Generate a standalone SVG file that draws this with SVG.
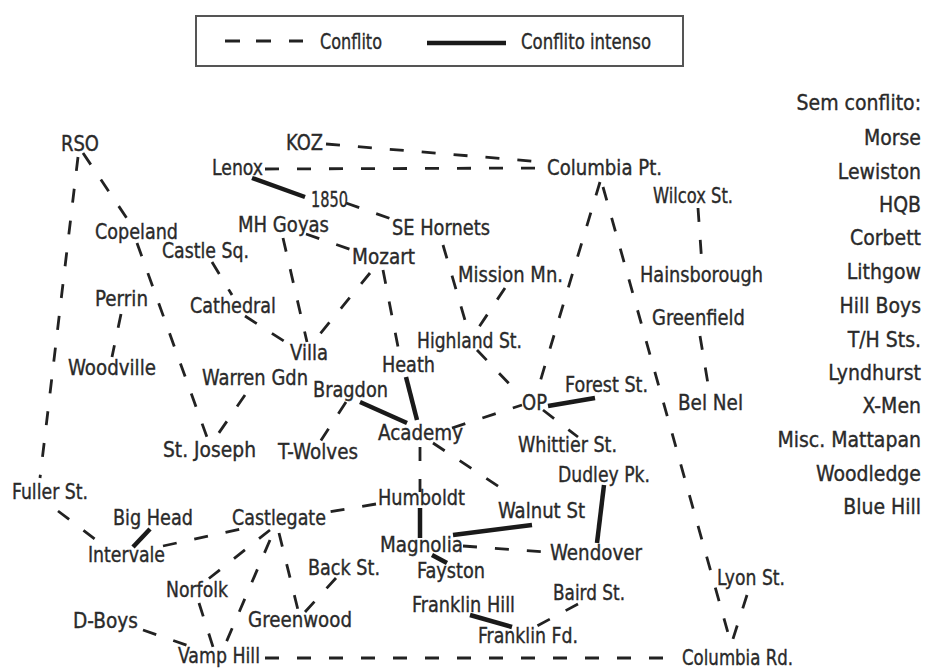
<svg xmlns="http://www.w3.org/2000/svg" width="925" height="669" viewBox="0 0 925 669">
<style>
text{font-family:"DejaVu Sans Condensed","DejaVu Sans","Liberation Sans",sans-serif;font-stretch:condensed;font-size:21px;fill:#2a2a2a;stroke:#2a2a2a;stroke-width:0.35}
.r{text-anchor:end}
.d{stroke:#222;stroke-width:2.8;fill:none;stroke-dasharray:14 18}
.s{stroke:#1a1a1a;stroke-width:4.5;fill:none;stroke-linecap:butt}
</style>
<rect width="925" height="669" fill="#fff"/>
<g id="legend">
<rect x="196" y="16" width="487" height="50" fill="#fff" stroke="#555" stroke-width="2"/>
<path d="M225 41h15M256 41h15M289 41h14" stroke="#222" stroke-width="2.8"/>
<text x="320" y="49" textLength="62" lengthAdjust="spacingAndGlyphs">Conflito</text>
<line x1="427" y1="43" x2="506" y2="43" class="s"/>
<text x="521" y="49" textLength="130" lengthAdjust="spacingAndGlyphs">Conflito intenso</text>
</g>
<g id="connectors">
<line class="d" x1="326" y1="144" x2="543" y2="162"/>
<line class="d" x1="265" y1="169" x2="543" y2="168"/>
<line class="d" x1="78" y1="157" x2="40" y2="478"/>
<line class="d" x1="83" y1="153" x2="128" y2="220"/>
<line class="d" x1="137" y1="243" x2="208" y2="440"/>
<line class="d" x1="245" y1="395" x2="214" y2="440"/>
<line class="d" x1="121" y1="314" x2="112" y2="357"/>
<line class="d" x1="212" y1="262" x2="232" y2="295"/>
<line class="d" x1="245" y1="316" x2="290" y2="345"/>
<line class="d" x1="283" y1="238" x2="307" y2="342"/>
<line class="d" x1="306" y1="234" x2="352" y2="250"/>
<line class="d" x1="346" y1="203" x2="400" y2="222"/>
<line class="d" x1="370" y1="273" x2="315" y2="340"/>
<line class="d" x1="383" y1="270" x2="399" y2="352"/>
<line class="d" x1="443" y1="245" x2="467" y2="327"/>
<line class="d" x1="505" y1="288" x2="475" y2="333"/>
<line class="d" x1="600" y1="182" x2="537" y2="392"/>
<line class="d" x1="603" y1="187" x2="730" y2="640"/>
<line class="d" x1="747" y1="595" x2="731" y2="645"/>
<line class="d" x1="265" y1="658" x2="680" y2="658"/>
<line class="d" x1="698" y1="208" x2="702" y2="265"/>
<line class="d" x1="700" y1="336" x2="709" y2="390"/>
<line class="d" x1="477" y1="350" x2="517" y2="392"/>
<line class="d" x1="452" y1="428" x2="522" y2="405"/>
<line class="d" x1="543" y1="410" x2="578" y2="437"/>
<line class="d" x1="433" y1="443" x2="507" y2="492"/>
<line class="d" x1="420" y1="447" x2="420" y2="492"/>
<line class="d" x1="376" y1="504" x2="328" y2="512"/>
<line class="d" x1="163" y1="546" x2="245" y2="528"/>
<line class="d" x1="58" y1="511" x2="100" y2="543"/>
<line class="d" x1="270" y1="530" x2="207" y2="580"/>
<line class="d" x1="270" y1="540" x2="222" y2="652"/>
<line class="d" x1="279" y1="533" x2="298" y2="610"/>
<line class="d" x1="336" y1="578" x2="305" y2="612"/>
<line class="d" x1="199" y1="603" x2="214" y2="650"/>
<line class="d" x1="143" y1="630" x2="192" y2="647"/>
<line class="d" x1="463" y1="546" x2="546" y2="552"/>
<line class="d" x1="578" y1="604" x2="537" y2="626"/>
<line class="d" x1="346" y1="402" x2="318" y2="445"/>
<line class="s" x1="252" y1="178" x2="305" y2="197"/>
<line class="s" x1="406" y1="377" x2="417" y2="420"/>
<line class="s" x1="360" y1="402" x2="407" y2="423"/>
<line class="s" x1="548" y1="406" x2="595" y2="398"/>
<line class="s" x1="420" y1="508" x2="420" y2="538"/>
<line class="s" x1="453" y1="535" x2="532" y2="525"/>
<line class="s" x1="432" y1="555" x2="447" y2="563"/>
<line class="s" x1="604" y1="485" x2="597" y2="543"/>
<line class="s" x1="470" y1="615" x2="512" y2="627"/>
<line class="s" x1="150" y1="529" x2="133" y2="547"/>
</g>
<g id="n-rso"><text x="61" y="151" textLength="38" lengthAdjust="spacingAndGlyphs">RSO</text></g>
<g id="n-koz"><text x="286" y="150" textLength="37" lengthAdjust="spacingAndGlyphs">KOZ</text></g>
<g id="n-lenox"><text x="212" y="175" textLength="51" lengthAdjust="spacingAndGlyphs">Lenox</text></g>
<g id="n-columbia-pt"><text x="547" y="175" textLength="115" lengthAdjust="spacingAndGlyphs">Columbia Pt.</text></g>
<g id="n-1850"><text x="311" y="207" textLength="37" lengthAdjust="spacingAndGlyphs">1850</text></g>
<g id="n-copeland"><text x="95" y="239" textLength="83" lengthAdjust="spacingAndGlyphs">Copeland</text></g>
<g id="n-mh-goyas"><text x="238" y="232" textLength="91" lengthAdjust="spacingAndGlyphs">MH Goyas</text></g>
<g id="n-se-hornets"><text x="392" y="235" textLength="98" lengthAdjust="spacingAndGlyphs">SE Hornets</text></g>
<g id="n-wilcox"><text x="653" y="203" textLength="80" lengthAdjust="spacingAndGlyphs">Wilcox St.</text></g>
<g id="n-castle-sq"><text x="162" y="258" textLength="87" lengthAdjust="spacingAndGlyphs">Castle Sq.</text></g>
<g id="n-mozart"><text x="352" y="264" textLength="63" lengthAdjust="spacingAndGlyphs">Mozart</text></g>
<g id="n-mission"><text x="458" y="282" textLength="105" lengthAdjust="spacingAndGlyphs">Mission Mn.</text></g>
<g id="n-hainsborough"><text x="640" y="282" textLength="123" lengthAdjust="spacingAndGlyphs">Hainsborough</text></g>
<g id="n-perrin"><text x="95" y="306" textLength="53" lengthAdjust="spacingAndGlyphs">Perrin</text></g>
<g id="n-cathedral"><text x="190" y="313" textLength="86" lengthAdjust="spacingAndGlyphs">Cathedral</text></g>
<g id="n-greenfield"><text x="652" y="325" textLength="93" lengthAdjust="spacingAndGlyphs">Greenfield</text></g>
<g id="n-highland"><text x="417" y="348" textLength="105" lengthAdjust="spacingAndGlyphs">Highland St.</text></g>
<g id="n-villa"><text x="290" y="360" textLength="38" lengthAdjust="spacingAndGlyphs">Villa</text></g>
<g id="n-heath"><text x="382" y="372" textLength="53" lengthAdjust="spacingAndGlyphs">Heath</text></g>
<g id="n-woodville"><text x="68" y="375" textLength="88" lengthAdjust="spacingAndGlyphs">Woodville</text></g>
<g id="n-warren"><text x="202" y="385" textLength="106" lengthAdjust="spacingAndGlyphs">Warren Gdn</text></g>
<g id="n-bragdon"><text x="313" y="397" textLength="75" lengthAdjust="spacingAndGlyphs">Bragdon</text></g>
<g id="n-forest"><text x="565" y="392" textLength="83" lengthAdjust="spacingAndGlyphs">Forest St.</text></g>
<g id="n-op"><text x="522" y="410" textLength="25" lengthAdjust="spacingAndGlyphs">OP</text></g>
<g id="n-bel-nel"><text x="678" y="410" textLength="65" lengthAdjust="spacingAndGlyphs">Bel Nel</text></g>
<g id="n-academy"><text x="378" y="440" textLength="85" lengthAdjust="spacingAndGlyphs">Academy</text></g>
<g id="n-whittier"><text x="518" y="452" textLength="99" lengthAdjust="spacingAndGlyphs">Whittier St.</text></g>
<g id="n-st-joseph"><text x="163" y="457" textLength="93" lengthAdjust="spacingAndGlyphs">St. Joseph</text></g>
<g id="n-t-wolves"><text x="278" y="459" textLength="80" lengthAdjust="spacingAndGlyphs">T-Wolves</text></g>
<g id="n-dudley"><text x="558" y="482" textLength="92" lengthAdjust="spacingAndGlyphs">Dudley Pk.</text></g>
<g id="n-fuller"><text x="12" y="499" textLength="76" lengthAdjust="spacingAndGlyphs">Fuller St.</text></g>
<g id="n-humboldt"><text x="378" y="505" textLength="87" lengthAdjust="spacingAndGlyphs">Humboldt</text></g>
<g id="n-walnut"><text x="498" y="518" textLength="87" lengthAdjust="spacingAndGlyphs">Walnut St</text></g>
<g id="n-big-head"><text x="113" y="525" textLength="80" lengthAdjust="spacingAndGlyphs">Big Head</text></g>
<g id="n-castlegate"><text x="232" y="525" textLength="94" lengthAdjust="spacingAndGlyphs">Castlegate</text></g>
<g id="n-magnolia"><text x="380" y="552" textLength="83" lengthAdjust="spacingAndGlyphs">Magnolia</text></g>
<g id="n-wendover"><text x="550" y="560" textLength="92" lengthAdjust="spacingAndGlyphs">Wendover</text></g>
<g id="n-intervale"><text x="88" y="562" textLength="77" lengthAdjust="spacingAndGlyphs">Intervale</text></g>
<g id="n-back-st"><text x="308" y="575" textLength="72" lengthAdjust="spacingAndGlyphs">Back St.</text></g>
<g id="n-fayston"><text x="417" y="578" textLength="68" lengthAdjust="spacingAndGlyphs">Fayston</text></g>
<g id="n-lyon"><text x="717" y="585" textLength="68" lengthAdjust="spacingAndGlyphs">Lyon St.</text></g>
<g id="n-norfolk"><text x="166" y="597" textLength="62" lengthAdjust="spacingAndGlyphs">Norfolk</text></g>
<g id="n-baird"><text x="553" y="600" textLength="72" lengthAdjust="spacingAndGlyphs">Baird St.</text></g>
<g id="n-franklin-hill"><text x="412" y="612" textLength="103" lengthAdjust="spacingAndGlyphs">Franklin Hill</text></g>
<g id="n-greenwood"><text x="248" y="627" textLength="104" lengthAdjust="spacingAndGlyphs">Greenwood</text></g>
<g id="n-d-boys"><text x="73" y="628" textLength="65" lengthAdjust="spacingAndGlyphs">D-Boys</text></g>
<g id="n-franklin-fd"><text x="478" y="643" textLength="100" lengthAdjust="spacingAndGlyphs">Franklin Fd.</text></g>
<g id="n-vamp-hill"><text x="178" y="663" textLength="82" lengthAdjust="spacingAndGlyphs">Vamp Hill</text></g>
<g id="n-columbia-rd"><text x="682" y="665" textLength="111" lengthAdjust="spacingAndGlyphs">Columbia Rd.</text></g>
<g id="sem-conflito">
<text class="r" x="921" y="110">Sem conflito:</text>
<text class="r" x="921" y="145">Morse</text>
<text class="r" x="921" y="179">Lewiston</text>
<text class="r" x="921" y="212">HQB</text>
<text class="r" x="921" y="245">Corbett</text>
<text class="r" x="921" y="279">Lithgow</text>
<text class="r" x="921" y="313">Hill Boys</text>
<text class="r" x="921" y="347">T/H Sts.</text>
<text class="r" x="921" y="380">Lyndhurst</text>
<text class="r" x="921" y="413">X-Men</text>
<text class="r" x="921" y="447">Misc. Mattapan</text>
<text class="r" x="921" y="481">Woodledge</text>
<text class="r" x="921" y="514">Blue Hill</text>
</g>
</svg>
